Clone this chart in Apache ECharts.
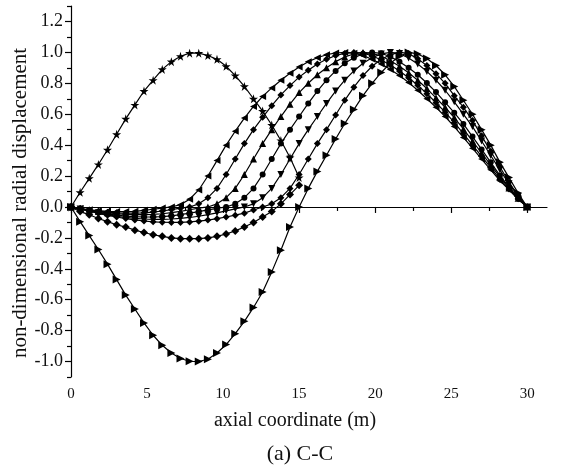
<!DOCTYPE html>
<html lang="en">
  <head>
    <meta charset="UTF-8" />
    <title>C-C mode shapes</title>
    <style>
      html, body { margin: 0; padding: 0; background: #fff; }
      #app { width: 569px; height: 465px; }
    </style>
  </head>
  <body>
    <div id="app"></div>
    <script src="https://cdn.jsdelivr.net/npm/echarts@6/dist/echarts.min.js"></script>
    <script>
      // axial positions of the sample points (m)
      var xFull = [0,0.6,1.2,1.8,2.4,3,3.6,4.2,4.8,5.4,6,6.6,7.2,7.8,8.4,9,9.6,10.2,10.8,11.4,
        12,12.6,13.2,13.8,14.4,15,15.6,16.2,16.8,17.4,18,18.6,19.2,19.8,20.4,21,21.6,22.2,22.8,23.4,
        24,24.6,25.2,25.8,26.4,27,27.6,28.2,28.8,29.4,30]
      var xHalf = [0,0.6,1.2,1.8,2.4,3,3.6,4.2,4.8,5.4,6,6.6,7.2,7.8,8.4,9,9.6,10.2,10.8,11.4,
        12,12.6,13.2,13.8,14.4,15]

      var starCurve = [0,0.095,0.185,0.275,0.37,0.47,0.57,0.66,0.75,0.82,
        0.89,0.94,0.975,0.995,0.995,0.98,0.955,0.91,0.85,0.78,
        0.7,0.62,0.53,0.43,0.32,0.19]
      var diamondCurve = [0,-0.03,-0.05,-0.075,-0.095,-0.115,-0.13,-0.15,-0.165,-0.18,
        -0.19,-0.2,-0.205,-0.205,-0.205,-0.2,-0.19,-0.175,-0.155,-0.13,
        -0.1,-0.065,-0.03,0.02,0.08,0.14]

      var f1 = [0,-0.01,-0.018,-0.024,-0.028,-0.03,-0.03,-0.028,-0.022,-0.015,
        -0.007,0,0.015,0.05,0.11,0.2,0.3,0.4,0.49,0.575,
        0.65,0.715,0.77,0.82,0.865,0.905,0.94,0.965,0.985,0.996,
        1,0.995,0.98,0.955,0.925,0.89,0.85,0.805,0.755,0.7,
        0.645,0.585,0.52,0.45,0.38,0.31,0.24,0.17,0.11,0.05,0]
      var f2 = [0,-0.01,-0.02,-0.028,-0.034,-0.038,-0.04,-0.04,-0.038,-0.033,
        -0.026,-0.017,-0.008,0,0.02,0.06,0.12,0.21,0.31,0.41,
        0.5,0.58,0.655,0.725,0.785,0.84,0.885,0.925,0.955,0.98,
        0.993,1,0.995,0.978,0.951,0.918,0.88,0.836,0.787,0.733,
        0.674,0.613,0.547,0.475,0.4,0.328,0.255,0.18,0.116,0.053,0]
      var f3 = [0,-0.01,-0.02,-0.03,-0.038,-0.044,-0.048,-0.05,-0.05,-0.048,
        -0.044,-0.037,-0.028,-0.018,-0.008,0,0.02,0.06,0.12,0.21,
        0.31,0.41,0.5,0.585,0.665,0.74,0.8,0.855,0.9,0.94,
        0.97,0.99,1,0.994,0.976,0.946,0.91,0.868,0.82,0.766,
        0.706,0.645,0.578,0.505,0.426,0.349,0.271,0.194,0.123,0.057,0]
      var f4 = [0,-0.012,-0.024,-0.035,-0.045,-0.053,-0.059,-0.063,-0.065,-0.065,
        -0.063,-0.058,-0.05,-0.04,-0.03,-0.019,-0.009,0,0.02,0.06,
        0.12,0.21,0.31,0.41,0.5,0.585,0.67,0.75,0.82,0.88,
        0.93,0.965,0.99,1,0.994,0.972,0.94,0.9,0.855,0.802,
        0.743,0.677,0.61,0.537,0.455,0.372,0.289,0.204,0.13,0.06,0]
      var f5 = [0,-0.013,-0.026,-0.038,-0.05,-0.06,-0.068,-0.074,-0.078,-0.08,
        -0.08,-0.078,-0.074,-0.068,-0.06,-0.05,-0.038,-0.025,-0.012,0,
        0.02,0.06,0.12,0.21,0.31,0.41,0.5,0.585,0.67,0.75,
        0.82,0.88,0.93,0.965,0.99,1,0.993,0.964,0.925,0.877,
        0.82,0.755,0.68,0.6,0.52,0.427,0.333,0.24,0.15,0.07,0]
      var f6 = [0,-0.014,-0.028,-0.041,-0.054,-0.065,-0.075,-0.084,-0.091,-0.096,
        -0.099,-0.1,-0.1,-0.097,-0.092,-0.085,-0.076,-0.065,-0.053,-0.04,
        -0.02,0,0.02,0.06,0.12,0.21,0.31,0.41,0.5,0.595,
        0.69,0.775,0.85,0.91,0.955,0.985,1,0.993,0.958,0.915,
        0.862,0.8,0.72,0.645,0.56,0.46,0.36,0.26,0.16,0.075,0]
      var triCurve = [0,-0.095,-0.185,-0.275,-0.37,-0.47,-0.57,-0.66,-0.75,-0.83,
        -0.895,-0.945,-0.98,-0.998,-1,-0.985,-0.945,-0.89,-0.82,-0.74,
        -0.65,-0.55,-0.42,-0.28,-0.13,0,0.12,0.23,0.335,0.44,
        0.54,0.63,0.72,0.8,0.87,0.93,0.975,1,0.99,0.96,
        0.915,0.855,0.78,0.69,0.6,0.5,0.4,0.29,0.19,0.09,0]

      var xTicks = [0, 5, 10, 15, 20, 25, 30]
      var xMinorTicks = [2.5, 7.5, 12.5, 17.5, 22.5, 27.5]
      var yTicks = [-1.0, -0.8, -0.6, -0.4, -0.2, 0.0, 0.2, 0.4, 0.6, 0.8, 1.0, 1.2]
      var yMinorTicks = [-1.1, -0.9, -0.7, -0.5, -0.3, -0.1, 0.1, 0.3, 0.5, 0.7, 0.9, 1.1, 1.3]

      var serif = 'Liberation Serif'
      var starPath = 'path://M50,0 L61,35 L98,35 L68,57 L79,91 L50,70 L21,91 L32,57 L2,35 L39,35 Z'

      function pairs(xs, ys) {
        return ys.map(function(v, i) { return [xs[i], v] })
      }
      function line(xs, ys, symbol, size, rotate) {
        return {
          type: 'line',
          data: pairs(xs, ys),
          symbol: symbol,
          symbolSize: size,
          symbolRotate: rotate || 0,
          showAllSymbol: true,
          lineStyle: { color: '#000', width: 1.2 },
          itemStyle: { color: '#000', borderWidth: 0 },
          emphasis: { disabled: true }
        }
      }

      var chart = echarts.init(document.getElementById('app'))
      chart.setOption({
        animation: false,
        backgroundColor: '#fff',
        grid: { left: 71, top: 6, right: 22, bottom: 88 },
        title: [
          {
            text: 'axial coordinate (m)',
            left: 290, top: 406, textAlign: 'center',
            textStyle: { fontFamily: serif, fontSize: 20, fontWeight: 'normal', color: '#111' }
          },
          {
            text: '(a) C-C',
            left: 295, top: 438, textAlign: 'center',
            textStyle: { fontFamily: serif, fontSize: 22, fontWeight: 'normal', color: '#111' }
          }
        ],
        graphic: [
          {
            type: 'text', x: 20, y: 203, rotation: Math.PI / 2,
            style: {
              text: 'non-dimensional radial displacement',
              font: '21px "Liberation Serif"', fill: '#111',
              textAlign: 'center', textVerticalAlign: 'middle'
            }
          }
        ],
        xAxis: [
          {
            type: 'value', min: 0, max: 31.3,
            axisLine: { lineStyle: { color: '#000', width: 1.2 } },
            axisTick: { customValues: xTicks, length: 6, lineStyle: { color: '#000', width: 1.2 } },
            axisLabel: { customValues: xTicks, margin: 10, fontFamily: serif, fontSize: 15, color: '#111' },
            splitLine: { show: false }
          },
          {
            type: 'value', min: 0, max: 31.3, position: 'bottom',
            axisLine: { show: false },
            axisTick: { customValues: xMinorTicks, length: 4, lineStyle: { color: '#000', width: 1.2 } },
            axisLabel: { show: false },
            splitLine: { show: false }
          }
        ],
        yAxis: [
          {
            type: 'value', min: -1.1, max: 1.3,
            axisLine: { show: true, lineStyle: { color: '#000', width: 1.2 } },
            axisTick: { show: true, customValues: yTicks, length: 6, lineStyle: { color: '#000', width: 1.2 } },
            axisLabel: {
              customValues: yTicks, margin: 8, fontFamily: serif, fontSize: 18, color: '#111',
              formatter: function(v) { return v.toFixed(1) }
            },
            splitLine: { show: false }
          },
          {
            type: 'value', min: -1.1, max: 1.3, position: 'left',
            axisLine: { show: false },
            axisTick: { show: true, customValues: yMinorTicks, length: 4, lineStyle: { color: '#000', width: 1.2 } },
            axisLabel: { show: false },
            splitLine: { show: false }
          }
        ],
        series: [
          line(xHalf, starCurve, starPath, 9),
          line(xHalf, diamondCurve, 'diamond', 8),
          line(xFull, f1, 'triangle', 7, 90),
          line(xFull, f2, 'diamond', 7),
          line(xFull, f3, 'triangle', 7),
          line(xFull, f4, 'circle', 6),
          line(xFull, f5, 'triangle', 7, 180),
          line(xFull, f6, 'diamond', 7),
          line(xFull, triCurve, 'triangle', 8, -90)
        ]
      })
    </script>
  </body>
</html>
